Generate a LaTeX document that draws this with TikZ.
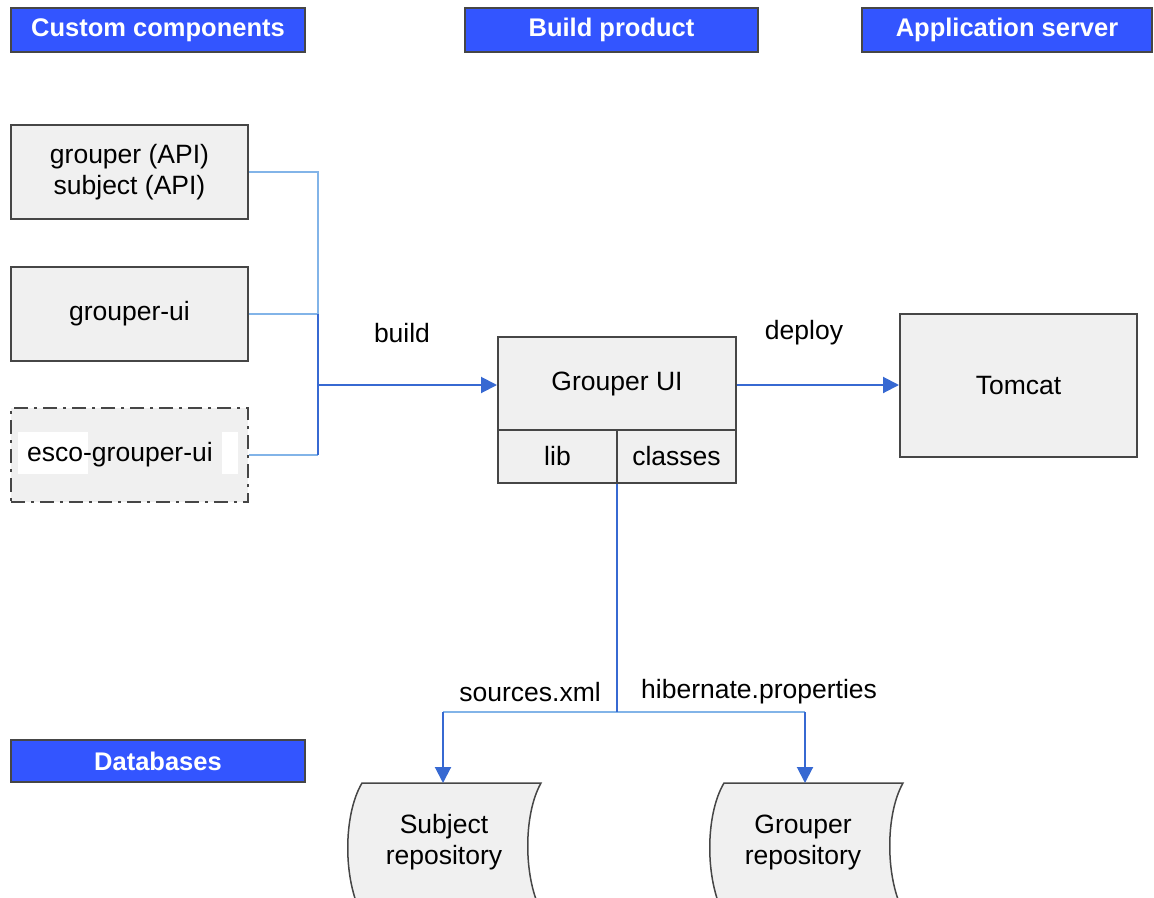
\documentclass[tikz,border=0pt]{standalone}
\usepackage{fontspec}
\setmainfont{Liberation Sans}
\usetikzlibrary{arrows.meta}
\definecolor{hdrblue}{RGB}{51,85,255}
\definecolor{boxfill}{RGB}{240,240,240}
\definecolor{boxline}{RGB}{70,70,70}
\definecolor{lightln}{RGB}{130,180,232}
\definecolor{darkln}{RGB}{55,105,210}
\tikzset{
  hdr/.style={draw=boxline, line width=2pt, fill=hdrblue, text=white, font=\fontsize{25.5}{28}\selectfont\bfseries, minimum height=44pt, inner sep=0pt},
  comp/.style={draw=boxline, line width=2pt, fill=boxfill, font=\fontsize{26.5}{31}\selectfont, minimum width=237pt, minimum height=94pt, align=center, inner sep=0pt},
  lbl/.style={font=\fontsize{26.5}{31}\selectfont, inner sep=0pt},
  light/.style={draw=lightln, line width=2pt},
  dark/.style={draw=darkln, line width=2pt},
  tip/.style={-{Triangle[length=16pt,width=16pt]}, draw=darkln, fill=darkln, line width=2pt},
}
\begin{document}
\begin{tikzpicture}[x=1pt,y=-1pt]
\useasboundingbox (0,0) rectangle (1154,897);
\clip (0,0) rectangle (1154,897);
% headers
\node[hdr, minimum width=294pt] (hcc) at (158,30) {Custom components};
\node[hdr, minimum width=293pt] (hbp) at (611.5,30) {Build product};
\node[hdr, minimum width=290pt] (has) at (1007,30) {Application server};
\node[hdr, minimum width=294pt, minimum height=42pt] (hdb) at (158,761) {Databases};
% components
\node[comp] (api) at (129.5,172) {grouper (API)\\subject (API)};
\node[comp] (gui) at (129.5,314) {grouper-ui};
\node[comp, dash pattern=on 14pt off 6pt on 3pt off 6pt] (esco) at (129.5,455) {};
\fill[white] (18,432) rectangle (88,474);
\fill[white] (222,432) rectangle (238,474);
\node[lbl, anchor=west] (escot) at (27,455) {esco-grouper-ui};
% Grouper UI
\node[comp, minimum width=238pt, minimum height=93pt] (gu) at (617,383.5) {Grouper UI};
\node[comp, minimum width=119pt, minimum height=53pt] (lib) at (557.5,456.5) {lib};
\node[comp, minimum width=119pt, minimum height=53pt] (cls) at (676.5,456.5) {classes};
% Tomcat
\node[comp, minimum width=237pt, minimum height=143pt] (tom) at (1018.5,385.5) {Tomcat};
% junction
\coordinate (j) at (318,385);
\coordinate (jt) at (318,172);
\coordinate (jm) at (318,314);
\coordinate (jb) at (318,455);
\draw[light] (api.east) -- (jt) -- (jm);
\draw[light] (gui.east) -- (jm);
\draw[light] (esco.east) -- (jb);
\draw[dark] (jm) -- (jb);
\draw[tip] (j) -- (gu.west |- j);
\node[lbl] (build) at (402,333) {build};
\draw[tip] (gu.east |- j) -- (tom.west |- j);
\node[lbl] (deploy) at (804,333) {deploy};
% repositories
\coordinate (sr) at (443,783);
\coordinate (gr) at (805,783);
\foreach \cx in {443,805}{
  \draw[boxline, line width=1.5pt, fill=boxfill]
    (\cx-81,783) -- (\cx+98,783)
    .. controls (\cx+80,815) and (\cx+80,880) .. (\cx+100,915)
    -- (\cx-81,915)
    .. controls (\cx-100,880) and (\cx-100,815) .. (\cx-81,783) -- cycle;
}
\node[lbl, align=center] (srt) at (444,842) {Subject\\repository};
\node[lbl, align=center] (grt) at (803,842) {Grouper\\repository};
% bottom connectors
\coordinate (bj) at (617,712);
\draw[light] (sr |- bj) -- (gr |- bj);
\draw[dark] (bj |- lib.south) -- (bj);
\draw[tip] (sr |- bj) -- (sr);
\draw[tip] (gr |- bj) -- (gr);
\node[lbl, anchor=east] (src) at (601,692) {sources.xml};
\node[lbl, anchor=west] (hib) at (641,692) {hibernate.properties};
\end{tikzpicture}
\end{document}
